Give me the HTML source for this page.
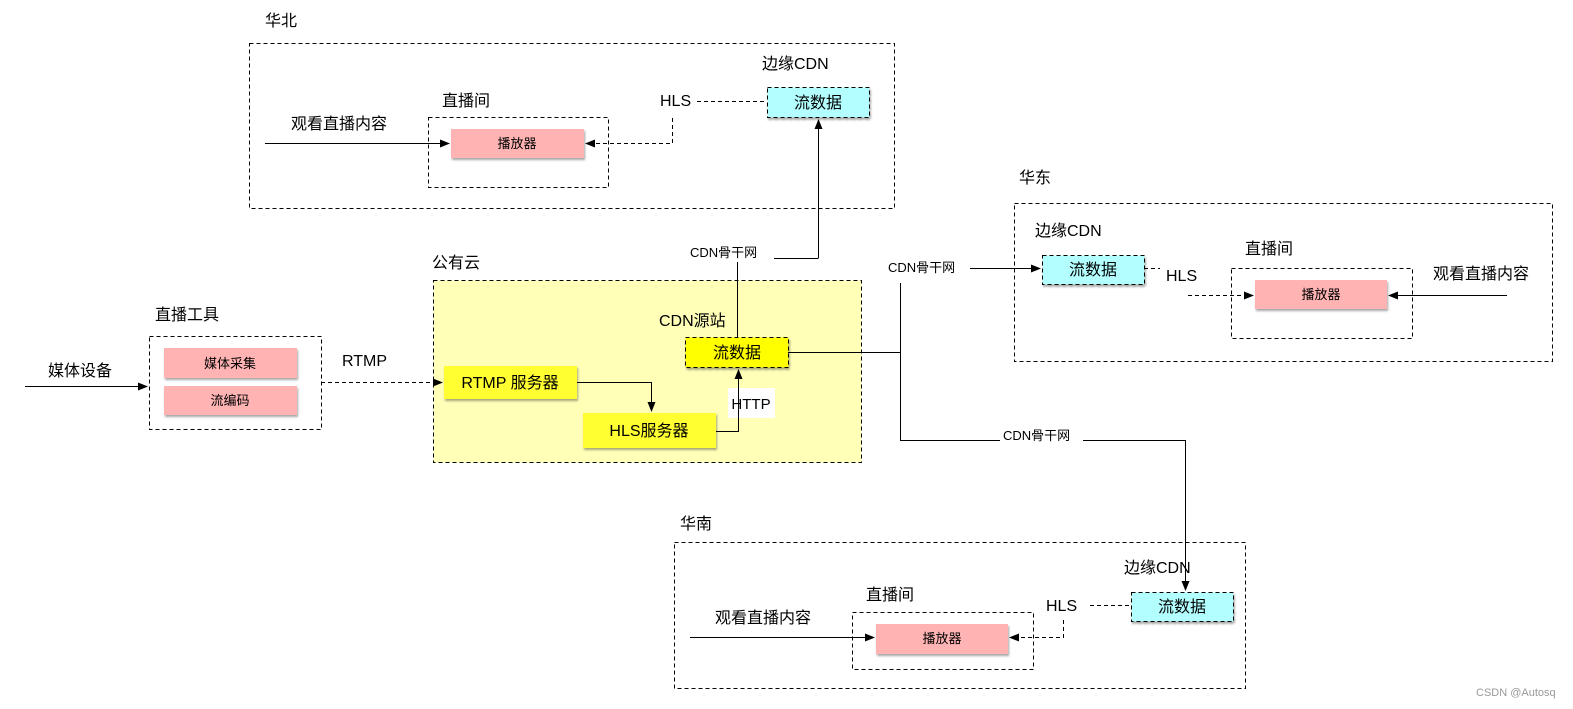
<!DOCTYPE html>
<html><head><meta charset="utf-8"><style>
body{margin:0;background:#fff}
svg{display:block}
text{font-family:"Liberation Sans","Noto Sans CJK SC",sans-serif;fill:#000}
.l{font-size:16px}.s{font-size:13px}.m{font-size:16px}
</style></head><body>
<svg width="1573" height="709" viewBox="0 0 1573 709" xmlns="http://www.w3.org/2000/svg">
<defs>
<marker id="a" markerWidth="10" markerHeight="8" refX="9" refY="4" orient="auto" markerUnits="userSpaceOnUse"><path d="M0,0 L10,4 L0,8 z" fill="#000"/></marker>
<filter id="sh" x="-10%" y="-10%" width="130%" height="150%"><feDropShadow dx="1" dy="2" stdDeviation="1" flood-color="#000" flood-opacity="0.35"/></filter>
</defs>
<g fill="none" stroke="#000" stroke-width="1" stroke-dasharray="4,3">
<rect x="249.5" y="43.5" width="645" height="165"/>
<rect x="428.5" y="117.5" width="180" height="70"/>
<rect x="1014.5" y="203.5" width="538" height="158"/>
<rect x="1231.5" y="268.5" width="181" height="70"/>
<rect x="149.5" y="336.5" width="172" height="93"/>
<rect x="674.5" y="542.5" width="571" height="146"/>
<rect x="852.5" y="612.5" width="181" height="57"/>
</g>
<rect x="433.5" y="280.5" width="428" height="182" fill="#ffffb8" stroke="#000" stroke-dasharray="4,3"/>
<g filter="url(#sh)">
<rect x="451" y="129" width="133" height="29" fill="#ffb3b3"/>
<rect x="1255" y="280" width="132" height="29" fill="#ffb3b3"/>
<rect x="876" y="624" width="132" height="30" fill="#ffb3b3"/>
<rect x="164" y="348" width="133" height="30" fill="#ffb3b3"/>
<rect x="164" y="386" width="133" height="29" fill="#ffb3b3"/>
<rect x="767.5" y="87.5" width="102" height="30" fill="#b3ffff" stroke="#000" stroke-dasharray="4,3"/>
<rect x="1042.5" y="255.5" width="102" height="29" fill="#b3ffff" stroke="#000" stroke-dasharray="4,3"/>
<rect x="1131.5" y="592.5" width="102" height="29" fill="#b3ffff" stroke="#000" stroke-dasharray="4,3"/>
<rect x="685.5" y="337.5" width="103" height="30" fill="#ffff00" stroke="#000" stroke-dasharray="4,3"/>
<rect x="444" y="366" width="133" height="33" fill="#ffff33"/>
<rect x="583" y="413" width="133" height="35" fill="#ffff33"/>
</g>
<rect x="728" y="388" width="47" height="30" fill="#fff"/>
<g fill="none" stroke="#000" stroke-width="1">
<path d="M265,143.5 H449" marker-end="url(#a)"/>
<path d="M818.5,258 V120" marker-end="url(#a)"/>
<path d="M774,258.5 H818.5"/>
<path d="M737.5,262 V337"/>
<path d="M577,382.5 H651.5 V411" marker-end="url(#a)"/>
<path d="M716,431.5 H738.5 V370" marker-end="url(#a)"/>
<path d="M788,352.5 H900.5"/>
<path d="M900.5,283 V440.5 H1000"/>
<path d="M1083,440.5 H1185.5 V590" marker-end="url(#a)"/>
<path d="M970,268.5 H1040" marker-end="url(#a)"/>
<path d="M1507,295.5 H1389" marker-end="url(#a)"/>
<path d="M25,386.5 H147" marker-end="url(#a)"/>
<path d="M690,637.5 H874" marker-end="url(#a)"/>
</g>
<g fill="none" stroke="#000" stroke-width="1" stroke-dasharray="4,3">
<path d="M697,101.5 H767"/>
<path d="M672.5,118 V143.5 H586" marker-end="url(#a)"/>
<path d="M1144,268.5 H1160"/>
<path d="M1188,295.5 H1253" marker-end="url(#a)"/>
<path d="M321,382.5 H442" marker-end="url(#a)"/>
<path d="M1090,605.5 H1131"/>
<path d="M1063.5,620 V637.5 H1010" marker-end="url(#a)"/>
</g>
<g class="l">
<text x="265" y="26">华北</text>
<text x="442" y="106">直播间</text>
<text x="291" y="129">观看直播内容</text>
<text x="660" y="106">HLS</text>
<text x="762" y="69">边缘CDN</text>
<text x="432" y="268">公有云</text>
<text x="659" y="326">CDN源站</text>
<text x="1019" y="183">华东</text>
<text x="1035" y="236">边缘CDN</text>
<text x="1166" y="281">HLS</text>
<text x="1245" y="254">直播间</text>
<text x="1433" y="279">观看直播内容</text>
<text x="155" y="320">直播工具</text>
<text x="48" y="376">媒体设备</text>
<text x="342" y="366">RTMP</text>
<text x="680" y="529">华南</text>
<text x="1124" y="573">边缘CDN</text>
<text x="1046" y="611">HLS</text>
<text x="866" y="600">直播间</text>
<text x="715" y="623">观看直播内容</text>
</g>
<g class="m" text-anchor="middle">
<text x="818" y="108">流数据</text>
<text x="1093" y="275">流数据</text>
<text x="1182" y="612">流数据</text>
<text x="737" y="358">流数据</text>
<text x="510" y="388">RTMP 服务器</text>
<text x="649" y="436">HLS服务器</text>
</g>
<g class="s" text-anchor="middle">
<text x="517" y="148">播放器</text>
<text x="1321" y="299">播放器</text>
<text x="942" y="643">播放器</text>
<text x="230" y="368">媒体采集</text>
<text x="230" y="405">流编码</text>
<text x="751" y="409" style="font-size:15px">HTTP</text>
</g>
<g class="s">
<text x="690" y="257">CDN骨干网</text>
<text x="888" y="272">CDN骨干网</text>
<text x="1003" y="440">CDN骨干网</text>
</g>
<text x="1476" y="696" style="font-size:11px;fill:#999">CSDN @Autosq</text>
</svg>
</body></html>
